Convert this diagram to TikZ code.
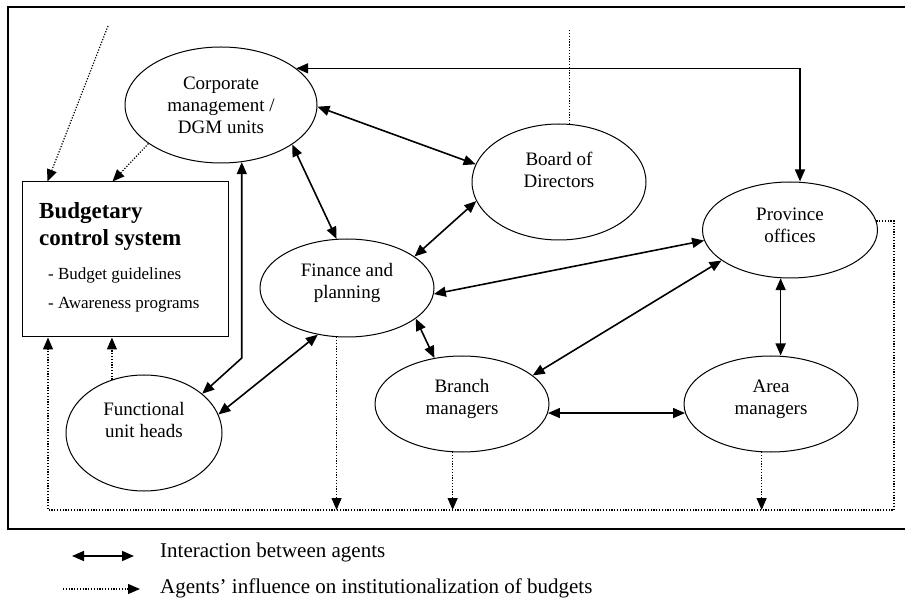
\documentclass[tikz,border=0pt]{standalone}
\usepackage{fontspec}
\setmainfont{Liberation Serif}
\usetikzlibrary{arrows.meta,shapes.geometric,positioning}

\begin{document}
\begin{tikzpicture}[
  x=1pt,y=-1pt,
  >={Triangle[length=12pt,width=10pt]},
  agent/.style={draw,ellipse,line width=1pt,inner sep=0pt},
  txt/.style={align=center,font=\fontsize{19}{22}\selectfont},
  sysbox/.style={draw,rectangle,line width=1pt,minimum width=206pt,minimum height=155pt,inner sep=0pt},
  link/.style={line width=1.6pt,<->},
  infl/.style={line width=1.2pt,dash pattern=on 1.2pt off 1.6pt,->},
  legtxt/.style={anchor=base west,inner sep=0pt,font=\fontsize{21}{24}\selectfont}
]
  \useasboundingbox (0,0) rectangle (905,601);
  \draw[line width=1.3pt] (905,7) -- (8,7) -- (8,529) -- (905,529);

  % agents
  \node[agent,minimum width=192pt,minimum height=116pt,
    label={[txt]center:Corporate\\management /\\DGM units}] (corp) at (221,105) {};
  \node[agent,minimum width=174pt,minimum height=116pt,
    label={[txt,yshift=12pt]center:Board of\\Directors}] (board) at (559,182) {};
  \node[agent,minimum width=175pt,minimum height=96pt,
    label={[txt,yshift=5pt]center:Province\\offices}] (prov) at (790,230) {};
  \node[agent,minimum width=174pt,minimum height=98pt,
    label={[txt,yshift=5pt]center:Finance and\\planning}] (fin) at (347,288) {};
  \node[agent,minimum width=156pt,minimum height=116pt,
    label={[txt,yshift=13pt]center:Functional\\unit heads}] (fun) at (144,433) {};
  \node[agent,minimum width=174pt,minimum height=96pt,
    label={[txt,yshift=5pt]center:Branch\\managers}] (branch) at (462,404) {};
  \node[agent,minimum width=174pt,minimum height=96pt,
    label={[txt,yshift=5pt]center:Area\\managers}] (area) at (771,404) {};

  % budgetary control system
  \node[sysbox] (bcs) at (125,259.5) {};
  \node[anchor=base west,inner sep=0pt,align=left,font=\fontsize{23}{27}\selectfont\bfseries]
    (bcs-title) at (39,246) {Budgetary\\control system};
  \node[anchor=base west,inner sep=0pt,align=left,font=\fontsize{17}{29}\selectfont]
    (bcs-items) at (48,309) {- Budget guidelines\\- Awareness programs};

  \coordinate (ext) at (108,26);
  \coordinate (top) at (569,29);
  \coordinate (bend) at (242,358);
  \coordinate (rb) at (894,510);
  \coordinate (lb) at (48,510);

  % interactions
  \draw[link] (corp.26) -| ([xshift=10pt]prov.north);
  \draw[link] (corp.-1) -- (board.168);
  \draw[link] (corp.-29) -- (fin.102);
  \draw[link] (board.193) -- (fin.25);
  \draw[link] (prov.187) -- (fin.-4);
  \draw[link] (prov.204) -- (branch.22);
  \draw[link] (prov.259) -- (prov.259 |- area.north);
  \draw[link] (branch.-6) -- (area.186);
  \draw[link] (fin.-24) -- (branch.121);
  \draw[link] (fin.238) -- (fun.14);
  \draw[link] (fun.34) -- (corp.-70 |- bend) -- (corp.-70);

  % influence on institutionalization
  \draw[infl] (ext) -- ([xshift=26pt]bcs.north west);
  \draw[infl] (corp.208) -- ([xshift=91pt]bcs.north west);
  \draw[infl,-] (board.80) -- (board.80 |- top);
  \draw[infl] (prov.6) -| (rb) -- (lb) -- (lb |- bcs.south);
  \draw[infl] (fun.121) -- (fun.121 |- bcs.south);
  \draw[infl] (fin.258) -- (fin.258 |- lb);
  \draw[infl] (branch.259) -- (branch.259 |- lb);
  \draw[infl] (area.259) -- (area.259 |- lb);

  % legend
  \coordinate (l1s) at (72,556);
  \coordinate (l1e) at (134,556);
  \coordinate (l2s) at (63,589);
  \coordinate (l2e) at (140,589);
  \draw[link] (l1s) -- (l1e);
  \draw[infl] (l2s) -- (l2e);
  \node[legtxt] (leg1) at (160,557) {Interaction between agents};
  \node[legtxt] (leg2) at (160,593) {Agents’ influence on institutionalization of budgets};
\end{tikzpicture}
\end{document}
